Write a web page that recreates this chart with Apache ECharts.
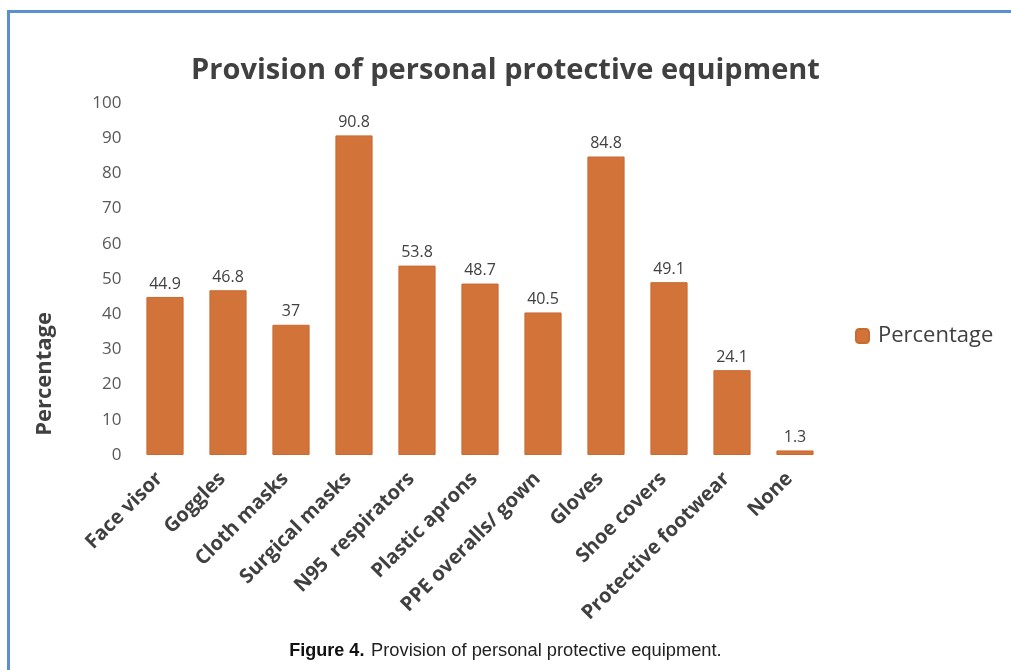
<!DOCTYPE html>
<html>
<head>
<meta charset="utf-8">
<script src="https://cdn.jsdelivr.net/npm/echarts@6/dist/echarts.min.js"></script>
<style>
  html, body { margin: 0; padding: 0; background: #ffffff; }
  #frame { position: absolute; left: 7px; top: 10px; width: 1004px; height: 660px;
           border-left: 3px solid #5b8fd2; border-top: 3px solid #5b8fd2; box-sizing: border-box; }
  #chart { position: absolute; left: 0; top: 0; width: 1011px; height: 670px; }
</style>
</head>
<body>
<div id="frame"></div>
<div id="chart"></div>
<script>
// Equipment items and the share of respondents provided with each (%)
const categories = ['Face visor', 'Goggles', 'Cloth masks', 'Surgical masks', 'N95  respirators',
  'Plastic aprons', 'PPE overalls/ gown', 'Gloves', 'Shoe covers', 'Protective footwear', 'None'];
const percentage = [44.9, 46.8, 37, 90.8, 53.8, 48.7, 40.5, 84.8, 49.1, 24.1, 1.3];
const yTicks = { min: 0, max: 100, interval: 10 };

const chart = echarts.init(document.getElementById('chart'), null, { renderer: 'canvas' });
const font = '"Open Sans", Lato, sans-serif';

chart.setOption({
  animation: false,
  title: {
    text: 'Provision of personal protective equipment',
    left: 'center', top: 51,
    textStyle: { fontFamily: font, fontWeight: 'bold', fontSize: 29, color: '#404040' }
  },
  legend: {
    data: ['Percentage'], orient: 'vertical', left: 855, top: 325, padding: 0,
    itemWidth: 13, itemHeight: 14,
    textStyle: { fontFamily: font, fontSize: 22, color: '#404040', padding: [0, 0, 0, 4] }
  },
  grid: { left: 133.5, right: 184.5, top: 103, bottom: 215, containLabel: false },
  xAxis: {
    type: 'category', data: categories,
    axisLine: { show: false }, axisTick: { show: false },
    axisLabel: { rotate: 45, margin: 15, interval: 0, padding: [0, 8, 0, 0],
                 fontFamily: font, fontWeight: 'bold', fontSize: 20, color: '#404040' }
  },
  yAxis: {
    type: 'value', min: yTicks.min, max: yTicks.max, interval: yTicks.interval,
    axisLine: { show: false }, axisTick: { show: false }, splitLine: { show: false },
    axisLabel: { margin: 12, fontFamily: font, fontSize: 17, color: '#595959' }
  },
  graphic: [
    {
      type: 'text', left: 34, top: 312, rotation: Math.PI / 2,
      style: { text: 'Percentage', fontFamily: font, fontWeight: 'bold', fontSize: 22, fill: '#404040' }
    },
    {
      type: 'text', left: 'center', top: 642,
      style: {
        text: '{b|Figure 4.}  {n|Provision of personal protective equipment.}',
        rich: {
          b: { fontFamily: '"Liberation Sans Narrow", "Liberation Sans", sans-serif', fontWeight: 'bold', fontSize: 18, fill: '#111' },
          n: { fontFamily: '"Liberation Sans", sans-serif', fontSize: 18.3, fill: '#222' }
        }
      }
    }
  ],
  series: [{
    name: 'Percentage', type: 'bar', data: percentage, barCategoryGap: '41%',
    itemStyle: { color: '#d2733a', borderColor: '#c96a32', borderWidth: 1 },
    label: { show: true, position: 'top', distance: 5, fontFamily: font, fontSize: 16, color: '#404040' }
  }]
});
</script>
</body>
</html>
